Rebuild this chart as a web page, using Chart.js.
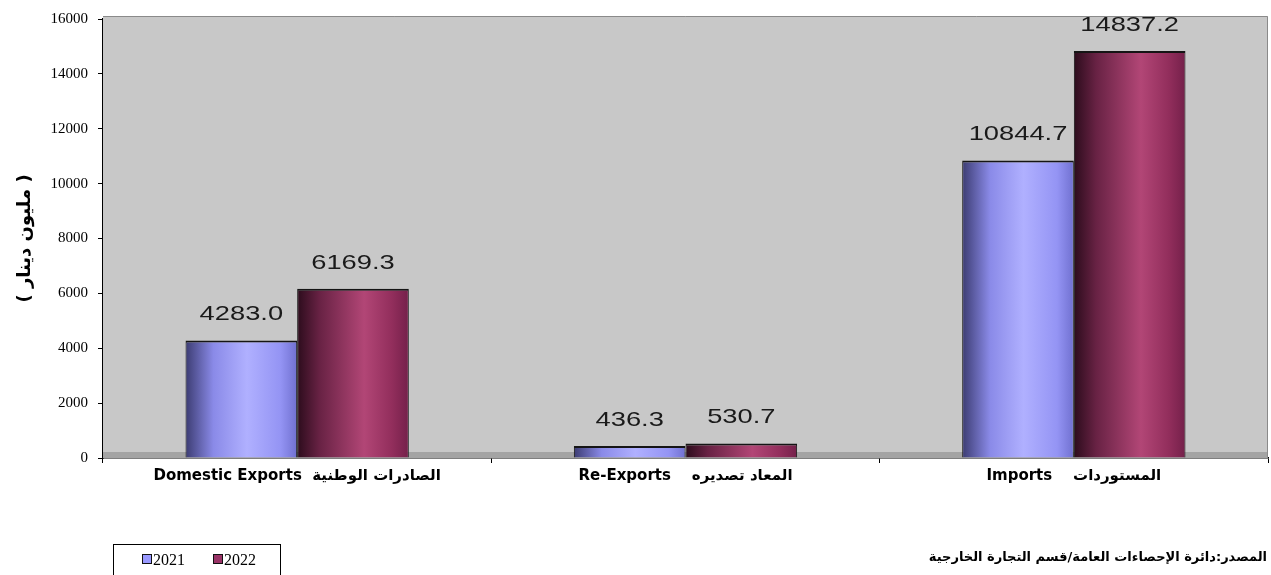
<!DOCTYPE html>
<html>
<head>
<meta charset="utf-8">
<script src="https://cdn.jsdelivr.net/npm/chart.js@4.4.1/dist/chart.umd.min.js"></script>
<style>
  body { margin: 0; background: #fff; }
  #wrap { position: relative; width: 1271px; height: 575px; overflow: hidden; }
  #leyenda {
    position: absolute; left: 113px; top: 544px; width: 168px; height: 40px;
    border: 1px solid #000; box-sizing: border-box;
    font: 16px 'Liberation Serif', serif; color: #000;
  }
  #leyenda span { position: absolute; top: 6px; }
  #leyenda i {
    display: inline-block; width: 8px; height: 8px; border: 1px solid #111;
    margin-right: 1px; vertical-align: 1px;
  }
  #fuente {
    position: absolute; right: 4px; top: 549px; direction: rtl;
    font: bold 13px 'DejaVu Sans', sans-serif; color: #000;
  }
</style>
</head>
<body>
<div id="wrap">
  <canvas id="grafica"></canvas>
  <div id="leyenda">
    <span style="left:28px"><i style="background:#9999ff"></i>2021</span>
    <span style="left:99px"><i style="background:#993366"></i>2022</span>
  </div>
  <div id="fuente">المصدر:دائرة الإحصاءات العامة/قسم التجارة الخارجية</div>
</div>
<script>
// Datos de la gráfica
const categorias = [
  'Domestic Exports  الصادرات الوطنية',
  'Re-Exports    المعاد تصديره',
  'Imports    المستوردات'
];
const anios = ['2021', '2022'];
const valores2021 = [4283.0, 436.3, 10844.7];
const valores2022 = [6169.3, 530.7, 14837.2];
const ticksY = [0, 2000, 4000, 6000, 8000, 10000, 12000, 14000, 16000];

const PORC_CAT = 0.575;

// Degradado tipo cilindro para cada barra
const paradas = [
  [[0, '#3c3c72'], [0.25, '#8a8ae8'], [0.55, '#b0b0ff'], [0.85, '#9494f4'], [1, '#7070d0']],
  [[0, '#2c0c1c'], [0.2, '#682244'], [0.6, '#b24676'], [0.85, '#922e5c'], [1, '#74204a']]
];

function rellenoBarra(ctx) {
  const chart = ctx.chart;
  const xs = chart.scales.x;
  if (!xs || !chart.chartArea || ctx.dataIndex === undefined) {
    return ctx.datasetIndex === 0 ? '#9999ff' : '#993366';
  }
  const anchoCat = xs.width / categorias.length;
  const anchoBarra = anchoCat * PORC_CAT / 2;
  const centro = xs.getPixelForValue(ctx.dataIndex);
  const x0 = ctx.datasetIndex === 0 ? centro - anchoBarra : centro;
  const g = chart.ctx.createLinearGradient(x0, 0, x0 + anchoBarra, 0);
  paradas[ctx.datasetIndex].forEach(p => g.addColorStop(p[0], p[1]));
  return g;
}

// Fondo gris del área de trazado y el "piso"
const fondoPlot = {
  id: 'fondoPlot',
  beforeDatasetsDraw(chart) {
    const { ctx, chartArea: a } = chart;
    ctx.save();
    ctx.fillStyle = '#c8c8c8';
    ctx.fillRect(a.left, a.top - 3, a.right - a.left, a.bottom - a.top + 3);
    ctx.fillStyle = '#a4a4a4';
    ctx.fillRect(a.left, a.bottom - 6, a.right - a.left, 6);
    ctx.strokeStyle = '#8a8a8a';
    ctx.lineWidth = 1;
    ctx.beginPath();
    ctx.moveTo(a.left, a.top - 2.5);
    ctx.lineTo(a.right - 0.5, a.top - 2.5);
    ctx.lineTo(a.right - 0.5, a.bottom);
    ctx.stroke();
    ctx.restore();
  }
};

// Etiquetas de valor encima de cada barra
const etiquetasValor = {
  id: 'etiquetasValor',
  afterDatasetsDraw(chart) {
    const { ctx } = chart;
    ctx.save();
    ctx.fillStyle = '#1a1a1a';
    ctx.font = "21px 'Liberation Sans', Arial, sans-serif";
    ctx.textAlign = 'center';
    ctx.textBaseline = 'alphabetic';
    chart.data.datasets.forEach((ds, i) => {
      chart.getDatasetMeta(i).data.forEach((barra, j) => {
        ctx.save();
        ctx.translate(barra.x, barra.y - 20);
        ctx.scale(1.3, 1);
        ctx.fillText(ds.data[j].toFixed(1), 0, 0);
        ctx.restore();
      });
    });
    ctx.restore();
  }
};

function estiloSerie(etiqueta, datos) {
  return {
    label: etiqueta,
    data: datos,
    backgroundColor: rellenoBarra,
    borderColor: '#151515',
    borderWidth: { top: 2, left: 1, right: 1, bottom: 0 },
    borderSkipped: false,
    categoryPercentage: PORC_CAT,
    barPercentage: 1
  };
}

function crearGrafica() {
  const ctx = document.getElementById('grafica').getContext('2d');
  new Chart(ctx, {
    type: 'bar',
    data: {
      labels: categorias,
      datasets: [
        estiloSerie(anios[0], valores2021),
        estiloSerie(anios[1], valores2022)
      ]
    },
    options: {
      responsive: true,
      maintainAspectRatio: false,
      animation: false,
      layout: { padding: { left: 0, top: 15, right: 3, bottom: 77 } },
      plugins: {
        legend: { display: false },
        tooltip: { enabled: false }
      },
      scales: {
        x: {
          grid: { display: true, drawOnChartArea: false, tickLength: 5, color: '#000', offset: true },
          border: { display: true, color: '#000', width: 1.5 },
          ticks: {
            color: '#000',
            padding: 4,
            maxRotation: 0,
            font: { family: "'DejaVu Sans', sans-serif", size: 15, weight: 'bold' }
          },
          afterFit(s) { s.height = 40; }
        },
        y: {
          min: 0,
          max: 16000,
          afterBuildTicks(s) { s.ticks = ticksY.map(v => ({ value: v })); },
          grid: { display: true, drawOnChartArea: false, tickLength: 5, color: '#000' },
          border: { display: true, color: '#000', width: 1.5 },
          ticks: {
            color: '#000',
            padding: 10,
            callback: v => String(v),
            font: { family: "'Liberation Serif', serif", size: 15 }
          },
          title: {
            display: true,
            text: '( مليون دينار )',
            color: '#000',
            padding: { top: 15, bottom: 0 },
            font: { family: "'DejaVu Sans', sans-serif", size: 18, weight: 'bold' }
          },
          afterFit(s) { s.width = 103; }
        }
      }
    },
    plugins: [fondoPlot, etiquetasValor]
  });
}

document.addEventListener('DOMContentLoaded', crearGrafica);
</script>
</body>
</html>
